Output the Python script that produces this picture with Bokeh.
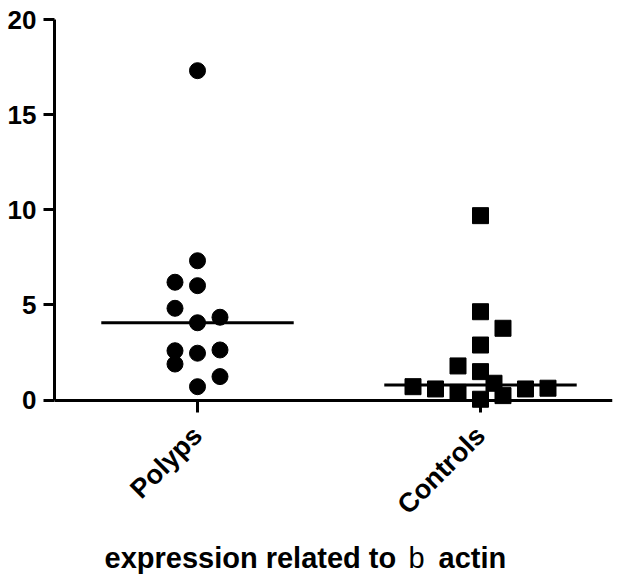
import math
from bokeh.plotting import figure
from bokeh.models import Range1d, FixedTicker, Label, ColumnDataSource
from bokeh.embed import file_html
from bokeh.resources import INLINE

# ---- data ----
categories = ["Polyps", "Controls"]
polyps = [17.31, 7.32, 6.19, 6.01, 4.82, 4.35, 4.06, 2.63, 2.59, 2.46, 1.89, 1.23, 0.70]
controls = [9.69, 4.64, 3.77, 2.89, 1.79, 1.49, 0.88, 0.70, 0.58, 0.40, 0.04, 0.23, 0.58, 0.62]
y_ticks = [0, 5, 10, 15, 20]
title_parts = ["expression related to", "b", "actin"]

# ---- layout: horizontal slot of each point inside its column (scatter arrangement) ----
polyps_slot = [0, 0, -1, 0, -1, 1, 0, 1, -1, 0, -1, 1, 0]
controls_slot = [0, 0, 1, 0, -1, 0, 0.6, -3, -2, -1, 0, 1, 2, 3]
SLOT = 0.0795
HALF = 0.34

FONT = "Liberation Sans"

# frame geometry (pixels)
LEFT, RIGHT_B, TOP = 54, 10, 19
W, H = 622, 574
FW, FH = W - LEFT - RIGHT_B, H - TOP
PX_X = 283.0      # pixels per category step
PX_Y = 19.025     # pixels per y unit
X0 = 1 - 143 / PX_X
X1 = X0 + FW / PX_X
Y1 = 20
Y0 = Y1 - FH / PX_Y

p = figure(width=W, height=H, output_backend="svg", toolbar_location=None,
           x_range=Range1d(X0, X1), y_range=Range1d(Y0, Y1),
           min_border_left=LEFT, min_border_right=RIGHT_B, min_border_top=TOP, min_border_bottom=0)
p.outline_line_color = None
p.xgrid.visible = False
p.ygrid.visible = False
p.background_fill_color = "white"
p.border_fill_color = "white"

def median(vals):
    s = sorted(vals)
    n = len(s)
    return s[n // 2] if n % 2 else (s[n // 2 - 1] + s[n // 2]) / 2

pos = {c: i + 1 for i, c in enumerate(categories)}

src_p = ColumnDataSource(dict(x=[pos["Polyps"] + s * SLOT for s in polyps_slot], y=polyps))
src_c = ColumnDataSource(dict(x=[pos["Controls"] + s * SLOT for s in controls_slot], y=controls))

for cat, vals in (("Polyps", polyps), ("Controls", controls)):
    m = median(vals)
    p.segment(x0=[pos[cat] - HALF], y0=[m], x1=[pos[cat] + HALF], y1=[m], line_color="black", line_width=3)

p.scatter("x", "y", source=src_p, marker="circle", size=16, fill_color="black", line_color="black")
p.scatter("x", "y", source=src_c, marker="square", size=16, fill_color="black", line_color="black")

# axes
for ax in (p.xaxis[0], p.yaxis[0]):
    ax.axis_line_width = 3
    ax.axis_line_color = "black"
    ax.major_tick_line_width = 3
    ax.major_tick_line_color = "black"
    ax.major_tick_in = 0
    ax.minor_tick_line_color = None
    ax.major_label_text_font = FONT
    ax.major_label_text_font_style = "bold"
    ax.major_label_text_color = "black"

p.yaxis.ticker = FixedTicker(ticks=y_ticks)
p.yaxis.bounds = (0, 20)
p.yaxis.major_tick_out = 11
p.yaxis.major_label_text_font_size = "26px"
p.yaxis.major_label_standoff = 7

p.xaxis.ticker = FixedTicker(ticks=[pos[c] for c in categories])
p.xaxis.major_label_overrides = {pos[c]: c for c in categories}
p.xaxis.major_label_orientation = math.pi / 4
p.xaxis.major_label_text_font_size = "27px"
p.xaxis.major_tick_out = 12
p.xaxis.major_label_standoff = 19
p.xaxis.fixed_location = 0

# title below the axis, "b" set in a regular weight
def dx(px):
    return X0 + (px - LEFT) / PX_X
def dy(py):
    return Y1 - (py - TOP) / PX_Y

for txt, cx, style in zip(title_parts, (104, 408, 438), ("bold", "normal", "bold")):
    p.add_layout(Label(x=dx(cx), y=dy(557), text=txt, text_font=FONT, text_font_style=style,
                       text_font_size="29px", text_color="black", text_align="left",
                       text_baseline="alphabetic"))

open("out.html", "w").write(file_html(p, INLINE))
